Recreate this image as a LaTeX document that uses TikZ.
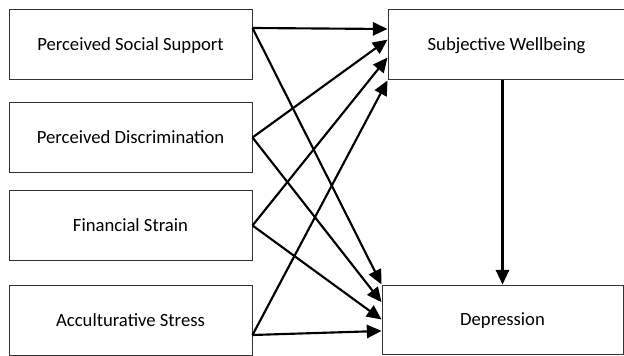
\documentclass[tikz,border=0pt]{standalone}
\usepackage{fontspec}
\setmainfont{Carlito}
\usetikzlibrary{arrows.meta}

\begin{document}
\begin{tikzpicture}[x=0.75pt,y=-0.75pt,
box/.style={draw=black!80,line width=0.75pt,align=center,font=\fontsize{14}{17}\selectfont,text height=9pt,text depth=0pt,minimum width=182.25pt,minimum height=52.5pt,inner sep=0pt},
effect/.style={-{Triangle[length=11pt,width=10pt]},line width=1.6pt}]
\useasboundingbox (0,0) rectangle (624,356);

\node[box] (support) at (130.5,45) {Perceived Social Support};
\node[box] (discrim) at (130.5,137.5) {Perceived Discrimination};
\node[box] (strain) at (130.5,225.5) {Financial Strain};
\node[box] (stress) at (130.5,320) {Acculturative Stress};

\node[box,minimum width=177.75pt] (wellbeing) at (506.5,45) {Subjective Wellbeing};
\node[box,minimum width=180.75pt,minimum height=51.75pt] (depress) at (502.5,319.5) {Depression};

\draw[effect] ([yshift=12.75pt]support.east) -- ([yshift=12pt]wellbeing.west);
\draw[effect] ([yshift=12.75pt]support.east) -- (depress.north west);
\draw[effect] (discrim.east) -- ([yshift=4pt]wellbeing.west);
\draw[effect] (discrim.east) -- ([yshift=13pt]depress.west);
\draw[effect] (strain.east) -- ([yshift=-9.4pt]wellbeing.west);
\draw[effect] (strain.east) -- (depress.west);
\draw[effect] ([yshift=-11.25pt]stress.east) -- (wellbeing.south west);
\draw[effect] ([yshift=-11.25pt]stress.east) -- ([yshift=-8.6pt]depress.west);
\draw[effect] (wellbeing.south -| depress.north) -- (depress.north);
\end{tikzpicture}
\end{document}
